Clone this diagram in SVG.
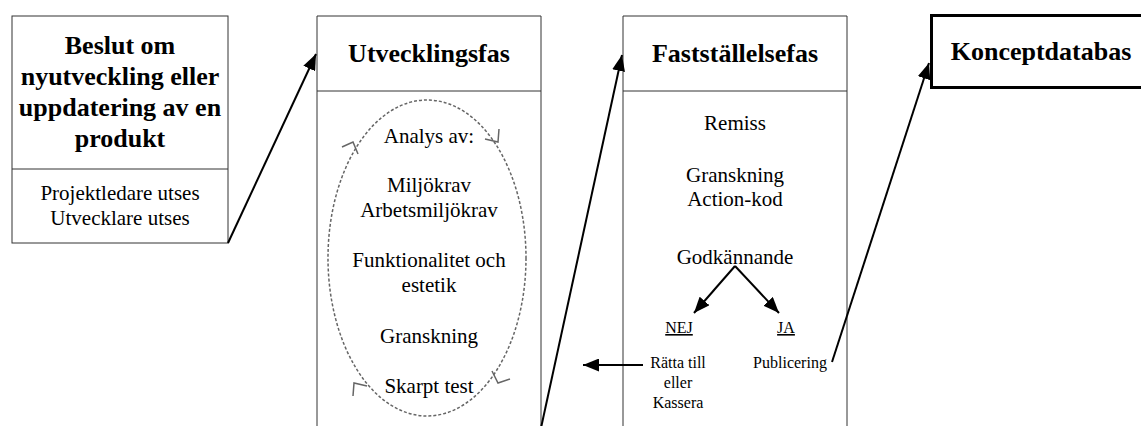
<svg xmlns="http://www.w3.org/2000/svg" width="1141" height="426" viewBox="0 0 1141 426">
  <style>
    text { fill: #000; text-anchor: middle; }
    .title { font-size: 26px; font-weight: bold; }
    .body { font-size: 21px; }
    .small { font-size: 16px; }
    .box { fill: #fff; stroke: #333; stroke-width: 1; }
    .rule { stroke: #333; stroke-width: 1; }
    .conn { stroke: #000; stroke-width: 2; fill: none; marker-end: url(#head); }
    .cycle { fill: none; stroke: #666; stroke-width: 1.5; stroke-dasharray: 3 2; }
    .chev { fill: none; stroke: #666; stroke-width: 1.5; }
  </style>
  <defs>
    <marker id="head" markerUnits="userSpaceOnUse" markerWidth="17" markerHeight="13" refX="16" refY="6.5" orient="auto">
      <path d="M0,0 L16,6.5 L0,13 z" fill="#000"/>
    </marker>
  </defs>
  <rect width="1141" height="426" fill="#fff"/>
  <g font-family="'Liberation Serif', 'Times New Roman', 'DejaVu Serif', serif">

  <!-- Decision node -->
  <g id="beslut">
    <rect class="box" x="12" y="16" width="216" height="227"/>
    <line class="rule" x1="12" y1="169" x2="228" y2="169"/>
    <text class="title" x="120" y="54">Beslut om</text>
    <text class="title" x="120" y="85">nyutveckling eller</text>
    <text class="title" x="120" y="116">uppdatering av en</text>
    <text class="title" x="120" y="147">produkt</text>
    <text class="body" x="120" y="200">Projektledare utses</text>
    <text class="body" x="120" y="225">Utvecklare utses</text>
  </g>

  <!-- Development phase -->
  <g id="utvecklingsfas">
    <path class="box" d="M317,430 V16 H541 V430"/>
    <line class="rule" x1="317" y1="91" x2="541" y2="91"/>
    <text class="title" x="429" y="62">Utvecklingsfas</text>
    <ellipse class="cycle" cx="427" cy="258" rx="99" ry="158"/>
    <polyline class="chev" points="342,147 353,142 358,154"/>
    <polyline class="chev" points="485,139 498,142 499,129"/>
    <polyline class="chev" points="492,371 498,383 510,379"/>
    <polyline class="chev" points="367,386 354,383 353,396"/>
    <text class="body" x="429" y="143">Analys av:</text>
    <text class="body" x="429" y="192">Miljökrav</text>
    <text class="body" x="429" y="217">Arbetsmiljökrav</text>
    <text class="body" x="429" y="267">Funktionalitet och</text>
    <text class="body" x="429" y="292">estetik</text>
    <text class="body" x="429" y="343">Granskning</text>
    <text class="body" x="429" y="393">Skarpt test</text>
  </g>

  <!-- Approval phase -->
  <g id="faststallelsefas">
    <path class="box" d="M623,430 V16 H847 V430"/>
    <line class="rule" x1="623" y1="91" x2="847" y2="91"/>
    <text class="title" x="735" y="62">Fastställelsefas</text>
    <text class="body" x="735" y="130">Remiss</text>
    <text class="body" x="735" y="182">Granskning</text>
    <text class="body" x="735" y="206">Action-kod</text>
    <text class="body" x="735" y="264">Godkännande</text>
    <text class="small" x="679" y="333" text-decoration="underline">NEJ</text>
    <text class="small" x="786" y="333" text-decoration="underline">JA</text>
    <text class="small" x="678" y="368">Rätta till</text>
    <text class="small" x="678" y="388">eller</text>
    <text class="small" x="678" y="408">Kassera</text>
    <text class="small" x="790" y="368">Publicering</text>
  </g>

  <!-- Concept database -->
  <g id="konceptdatabas">
    <path d="M1145,15.5 H931.5 V87.5 H1145" fill="#fff" stroke="#000" stroke-width="3"/>
    <text class="title" x="1041" y="60">Konceptdatabas</text>
  </g>
  </g>

  <!-- Connectors -->
  <g id="connectors">
    <line class="conn" x1="228" y1="243" x2="316" y2="54"/>
    <line class="conn" x1="541" y1="428" x2="622" y2="55"/>
    <line class="conn" x1="832" y1="362" x2="929" y2="63"/>
    <line class="conn" x1="643" y1="365" x2="583" y2="365"/>
    <line class="conn" x1="735" y1="266" x2="694" y2="313"/>
    <line class="conn" x1="735" y1="266" x2="779" y2="313"/>
  </g>
</svg>
